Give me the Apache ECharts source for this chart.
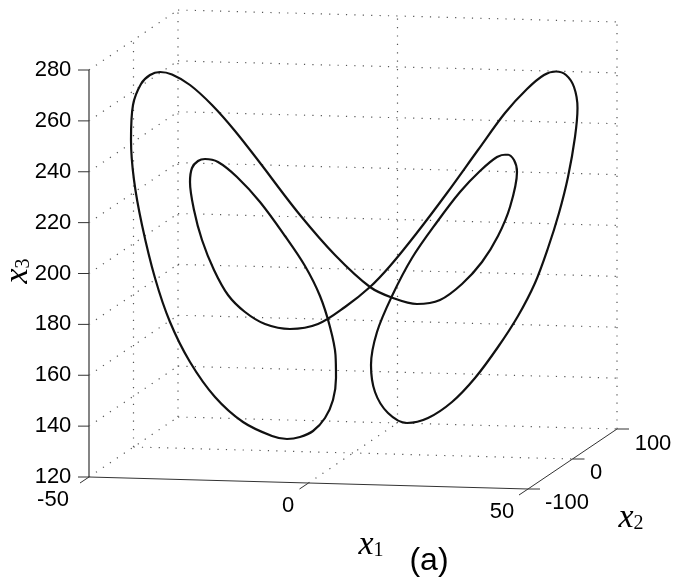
<!DOCTYPE html>
<html>
<head>
<meta charset="utf-8">
<style>html,body{margin:0;padding:0;background:#fff}#c{width:673px;height:583px}</style>
<script src="https://cdn.jsdelivr.net/npm/echarts@6/dist/echarts.min.js"></script>
</head>
<body>
<div id="c"></div>
<script>
// Tick values of the three axes
const x1Ticks = [-50, 0, 50];
const x2Ticks = [-100, 0, 100];
const x3Ticks = [120, 140, 160, 180, 200, 220, 240, 260, 280];

// Trajectory, in the projected drawing plane
const curveU = [267,300,335,370,393,417,440,462,482,498,510,517,514,507,497,480,460,437,412,392,377,371,375,388,407,428,452,475,498,518,535,548,559,568,575,577.5,574,566,556,544,527,505,478,447,416,390,370,345,318,290,265,245,228,214,202,194,190,192,198,205,218,237,260,285,305,320,330,335.5,336,333,325,313,300,287,272,243,215,190,170,155,142,134,131,133,141,150,160,172,190,212,235,267];
const curveV = [172,215,255,287,298,304,300,284,262,236,207,172,160,154.5,157,171,192,222,258,296,332,365,392,413,423,418,402,378,347,316,283,248,213,177,137,108,87,75,71.5,75,89,113,150,193,234,266,287,307,324,329,324,312,295,270,240,210,182,168,161,159,162,177,202,236,266,296,327,355,378,400,418,431,437,439,436,422,397,362,322,278,225,180,140,105,84,75,72,74.5,85,105,131,172];

// Projection of the 3-D box on the drawing plane
function project(a, b, c) {
  const s = (a + 50) / 100, t = (b + 100) / 200, r = (c - 120) / 160;
  return [89 + 439 * s + 89 * t, 477 + 12 * s - 60 * t - 407 * r];
}
const X1MIN = x1Ticks[0], X1MAX = x1Ticks[2], X2MIN = x2Ticks[0], X2MAX = x2Ticks[2], X3MIN = x3Ticks[0], X3MAX = x3Ticks[8];

const seg = (p, q, style) => ({
  type: 'line', data: [p, q], showSymbol: false, symbol: 'none', silent: true, clip: false,
  lineStyle: style, z: style.z || 1
});
const dotted = {color: '#555', width: 1.2, type: [1.2, 7.2]};
const thin = {color: '#333', width: 1, z: 3};
const axisThick = {color: '#666', width: 1.6, z: 3};

const series = [];
// Dotted grid
x3Ticks.forEach(c => {
  series.push(seg(project(X1MIN, X2MIN, c), project(X1MIN, X2MAX, c), dotted));
  series.push(seg(project(X1MIN, X2MAX, c), project(X1MAX, X2MAX, c), dotted));
});
[0, X2MAX].forEach(b => series.push(seg(project(X1MIN, b, X3MIN), project(X1MIN, b, X3MAX), dotted)));
[0, X1MAX].forEach(a => series.push(seg(project(a, X2MAX, X3MIN), project(a, X2MAX, X3MAX), dotted)));
series.push(seg(project(X1MIN, 0, X3MIN), project(X1MAX, 0, X3MIN), dotted));
series.push(seg(project(0, X2MIN, X3MIN), project(0, X2MAX, X3MIN), dotted));

// Axes
series.push(seg(project(X1MIN, X2MIN, X3MIN), project(X1MIN, X2MIN, X3MAX), axisThick));
series.push(seg(project(X1MIN, X2MIN, X3MIN), project(X1MAX, X2MIN, X3MIN), thin));
series.push(seg(project(X1MAX, X2MIN, X3MIN), project(X1MAX, X2MAX, X3MIN), thin));

// Ticks
const shift = (p, du, dv) => [p[0] + du, p[1] + dv];
x3Ticks.forEach(c => { const p = project(X1MIN, X2MIN, c); series.push(seg(p, shift(p, -11, 0), thin)); });
x1Ticks.forEach(a => { const p = project(a, X2MIN, X3MIN); series.push(seg(p, shift(p, -9, 6), thin)); });
x2Ticks.forEach(b => { const p = project(X1MAX, b, X3MIN); series.push(seg(p, shift(p, 12, 0), thin)); });

// Trajectory
series.push({
  type: 'line', data: curveU.map((u, i) => [u, curveV[i]]), smooth: 0.33, showSymbol: false, symbol: 'none',
  silent: true, clip: false, z: 5, lineStyle: {color: '#111', width: 2.2}
});

// Text marks
const textFont = {fontFamily: '"Liberation Sans", Arial, sans-serif', fontSize: 22, color: '#000', textBorderWidth: 0, opacity: 1};
const rich = {
  v: {fontFamily: '"Liberation Serif", serif', fontStyle: 'italic', fontSize: 34, color: '#000', textBorderWidth: 0, opacity: 1},
  s: {fontFamily: '"Liberation Serif", serif', fontSize: 20, color: '#000', textBorderWidth: 0, opacity: 1, padding: [12, 0, 0, 0]}
};
function textSeries(list) {
  return {
    type: 'scatter', symbolSize: 0, silent: true, clip: false, z: 6,
    data: list.map(d => ({
      value: [d[0], d[1]],
      label: Object.assign({show: true, position: 'inside', align: 'center', verticalAlign: 'middle', formatter: d[2], rich}, d[3] || textFont)
    }))
  };
}
const tickText = [];
x3Ticks.forEach(c => { const p = project(X1MIN, X2MIN, c); tickText.push([p[0] - 36, p[1], String(c)]); });
tickText.push([53, 500, '-50'], [288, 506, '0'], [502, 512, '50']);
tickText.push([567, 503, '-100'], [596, 473, '0'], [653, 444, '100']);
series.push(textSeries(tickText));
series.push(textSeries([
  [371, 545, '{v|x}{s|1}', {rich, opacity: 1}],
  [631, 518, '{v|x}{s|2}', {rich, opacity: 1}],
  [18, 271, '{v|x}{s|3}', {rich, rotate: 90, opacity: 1}],
  [429, 561, '(a)', {fontFamily: '"Liberation Sans", Arial, sans-serif', fontSize: 32, color: '#000', textBorderWidth: 0, opacity: 1}]
]));

const chart = echarts.init(document.getElementById('c'), null, {renderer: 'canvas'});
chart.setOption({
  animation: false,
  backgroundColor: '#fff',
  grid: {left: 0, right: 0, top: 0, bottom: 0},
  xAxis: {type: 'value', min: 0, max: 673, show: false},
  yAxis: {type: 'value', min: 0, max: 583, inverse: true, show: false},
  series
});
</script>
</body>
</html>
